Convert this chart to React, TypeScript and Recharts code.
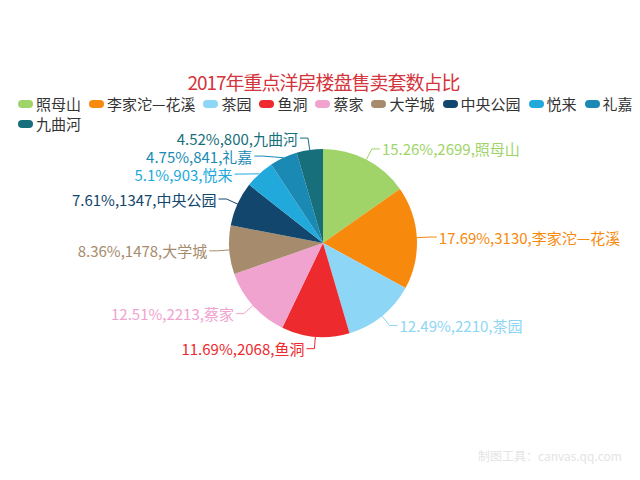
import React from 'react'
import { PieChart, Pie, Cell } from 'recharts'

const names = ['照母山', '李家沱—花溪', '茶园', '鱼洞', '蔡家', '大学城', '中央公园', '悦来', '礼嘉', '九曲河']
const counts = [2699, 3130, 2210, 2068, 2213, 1478, 1347, 903, 841, 800]
const percents = ['15.26%', '17.69%', '12.49%', '11.69%', '12.51%', '8.36%', '7.61%', '5.1%', '4.75%', '4.52%']
const colors = ['#a0d468', '#f7890c', '#8ed6f5', '#ed2a2e', '#f0a3cf', '#a68c6d', '#12466d', '#22a9db', '#1a8ab5', '#176f7b']

const CX = 323
const CY = 243
const R = 94
const FONT = '"Noto Sans CJK SC", "Noto Sans", sans-serif'

const data = names.map((name, i) => ({ name, value: counts[i] }))

// label placement, echarts style: point just outside the slice, then a short horizontal run
function layoutLabels() {
  const total = counts.reduce((a, b) => a + b, 0)
  const lr = R + 12
  let cum = 0
  const items = counts.map((v, i) => {
    const mid = 90 - ((cum + v / 2) / total) * 360
    cum += v
    const rad = (mid * Math.PI) / 180
    return {
      i,
      right: Math.cos(rad) >= 0,
      ex: CX + R * Math.cos(rad),
      ey: CY - R * Math.sin(rad),
      x: CX + lr * Math.cos(rad),
      y: CY - lr * Math.sin(rad),
    }
  })
  for (const side of [true, false]) {
    const list = items.filter((d) => d.right === side).sort((a, b) => a.y - b.y)
    let prev = -Infinity
    for (const d of list) {
      if (d.y < prev + 18) {
        d.y = prev + 18
        const dy = d.y - CY
        if (Math.abs(dy) < lr) {
          const dx = Math.sqrt(lr * lr - dy * dy)
          d.x = side ? CX + dx : CX - dx
        }
      }
      prev = d.y
    }
  }
  return items
}

const labels = layoutLabels()

function renderLabel(props: any) {
  const l = labels[props.index]
  if (!l) return null
  const dir = l.right ? 1 : -1
  const color = colors[l.i]
  return (
    <g key={'lbl' + l.i}>
      <polyline
        points={`${l.ex},${l.ey} ${l.x},${l.y} ${l.x + dir * 8},${l.y}`}
        fill="none"
        stroke={color}
        strokeWidth={1}
      />
      <text
        x={l.x + dir * 10}
        y={l.y}
        fill={color}
        fontSize={15}
        fontFamily={FONT}
        textAnchor={l.right ? 'start' : 'end'}
        dominantBaseline="central"
      >
        {`${percents[l.i]},${counts[l.i]},${names[l.i]}`}
      </text>
    </g>
  )
}

export default function App() {
  return (
    <div
      style={{
        position: 'absolute',
        left: 0,
        top: 0,
        width: 640,
        height: 480,
        background: '#fff',
        fontFamily: FONT,
        overflow: 'hidden',
      }}
    >
      <PieChart
        width={640}
        height={480}
        margin={{ top: 0, right: 0, bottom: 0, left: 0 }}
        style={{ position: 'absolute', left: 0, top: 0 }}
      >
        <Pie
          data={data}
          dataKey="value"
          nameKey="name"
          cx={CX}
          cy={CY}
          outerRadius={R}
          startAngle={90}
          endAngle={-270}
          stroke="none"
          label={renderLabel}
          labelLine={false}
          isAnimationActive={false}
        >
          {data.map((d, i) => (
            <Cell key={d.name} fill={colors[i]} />
          ))}
        </Pie>
      </PieChart>
      <div
        style={{
          position: 'absolute',
          top: 72,
          left: 0,
          width: 647,
          textAlign: 'center',
          fontSize: 19,
          letterSpacing: -1,
          lineHeight: '19px',
          color: '#d4343c',
        }}
      >
        2017年重点洋房楼盘售卖套数占比
      </div>
      <div
        style={{
          position: 'absolute',
          top: 96,
          left: 18,
          width: 630,
          display: 'flex',
          flexWrap: 'wrap',
          rowGap: 4,
          fontSize: 15,
          lineHeight: '16px',
          color: '#333',
        }}
      >
        {names.map((n, i) => (
          <div key={n} style={{ display: 'flex', alignItems: 'center', marginRight: 8 }}>
            <span
              style={{
                display: 'inline-block',
                width: 15,
                height: 8,
                borderRadius: 4,
                background: colors[i],
                marginRight: 3,
              }}
            />
            <span>{n}</span>
          </div>
        ))}
      </div>
      <div
        style={{
          position: 'absolute',
          left: 478,
          top: 447,
          fontSize: 12,
          color: '#e4e4e4',
        }}
      >
        制图工具：canvas.qq.com
      </div>
    </div>
  )
}
